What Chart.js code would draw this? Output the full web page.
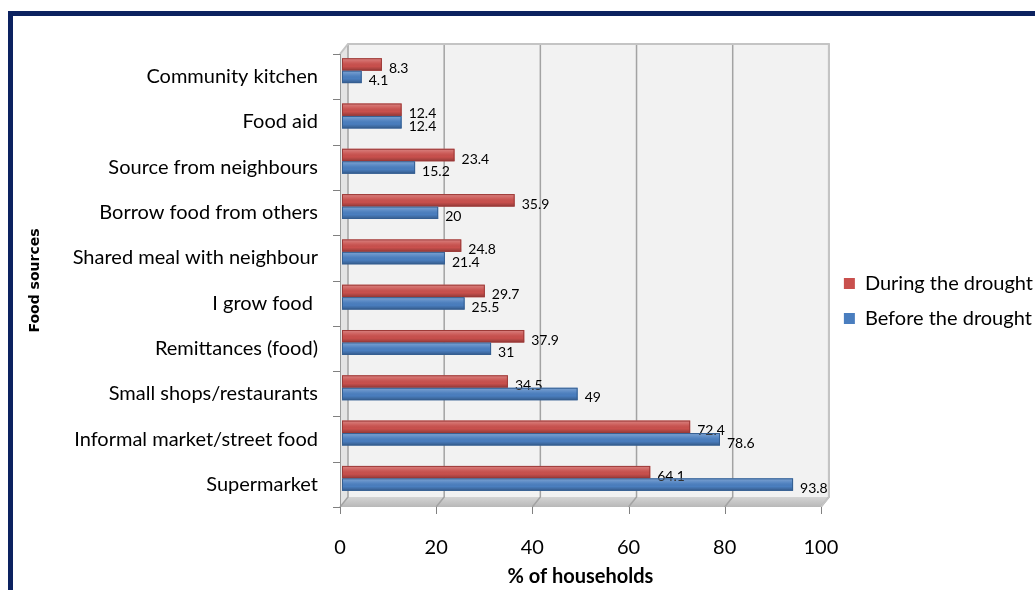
<!DOCTYPE html>
<html lang="en">
<head>
<meta charset="UTF-8">
<title>Food sources before and during the drought</title>
<script src="https://cdn.jsdelivr.net/npm/chart.js@4.4.0/dist/chart.umd.min.js"></script>
<style>
    html, body {
        margin: 0;
        padding: 0;
        background: #fff;
        overflow: hidden;
    }

    .frame {
        position: absolute;
        left: 8px;
        top: 11px;
        width: 1200px;
        height: 800px;
        border-top: 5px solid #0c2260;
        border-left: 5px solid #0c2260;
    }

    .wrap {
        position: absolute;
        left: 0;
        top: 0;
        width: 1035px;
        height: 590px;
    }
</style>
</head>
<body>
<div class="frame"></div>
<div class="wrap"><canvas id="foodChart"></canvas></div>

<script>
    // Food sources, top to bottom
    const categories = [
        'Community kitchen',
        'Food aid',
        'Source from neighbours',
        'Borrow food from others',
        'Shared meal with neighbour',
        'I grow food ',
        'Remittances (food)',
        'Small shops/restaurants',
        'Informal market/street food',
        'Supermarket'
    ];

    // % of households
    const duringDrought = [8.3, 12.4, 23.4, 35.9, 24.8, 29.7, 37.9, 34.5, 72.4, 64.1];
    const beforeDrought = [4.1, 12.4, 15.2, 20, 21.4, 25.5, 31, 49, 78.6, 93.8];

    const xTicks = [0, 20, 40, 60, 80, 100];

    const FONT = 'Lato, "Open Sans", sans-serif';
    const DEPTH = { dx: 8, dy: -10 };   // back wall offset
    const BAR_SHIFT = { dx: 2, dy: -6 }; // bars sit in the middle of the depth
    const LEGEND_SHIFT = { dx: 8, dy: -20 };
    const edgeColors = ['#9c3a38', '#355f92'];

    // grey back wall, side wall and floor like an Excel 3D bar chart
    const wallPlugin = {
        id: 'wall3d',
        afterLayout(chart) {
            const lg = chart.legend;
            lg.left += LEGEND_SHIFT.dx;
            lg.right += LEGEND_SHIFT.dx;
            lg.top += LEGEND_SHIFT.dy;
            lg.bottom += LEGEND_SHIFT.dy;
        },
        beforeDraw(chart) {
            const ctx = chart.ctx;
            const xs = chart.scales.x;
            const { top, bottom } = chart.chartArea;
            const x0 = xs.getPixelForValue(0);
            const x1 = xs.getPixelForValue(100);
            const { dx, dy } = DEPTH;

            ctx.save();
            // back wall
            ctx.fillStyle = '#f2f2f2';
            ctx.fillRect(x0 + dx, top + dy, x1 - x0, bottom - top);

            // left side wall
            ctx.fillStyle = '#e4e4e4';
            ctx.beginPath();
            ctx.moveTo(x0, top);
            ctx.lineTo(x0 + dx, top + dy);
            ctx.lineTo(x0 + dx, bottom + dy);
            ctx.lineTo(x0, bottom);
            ctx.closePath();
            ctx.fill();

            // floor
            const fg = ctx.createLinearGradient(0, bottom + dy, 0, bottom);
            fg.addColorStop(0, '#d4d4d4');
            fg.addColorStop(1, '#b8b8b8');
            ctx.fillStyle = fg;
            ctx.beginPath();
            ctx.moveTo(x0, bottom);
            ctx.lineTo(x1, bottom);
            ctx.lineTo(x1 + dx, bottom + dy);
            ctx.lineTo(x0 + dx, bottom + dy);
            ctx.closePath();
            ctx.fill();

            // gridlines on wall and floor
            ctx.strokeStyle = '#a3a3a3';
            ctx.lineWidth = 1.5;
            xTicks.forEach(v => {
                const x = xs.getPixelForValue(v);
                ctx.beginPath();
                ctx.moveTo(x + dx, top + dy);
                ctx.lineTo(x + dx, bottom + dy);
                ctx.lineTo(x, bottom);
                ctx.stroke();
            });

            // wall outline
            ctx.strokeStyle = '#c4c4c4';
            ctx.lineWidth = 2;
            ctx.beginPath();
            ctx.moveTo(x0, top);
            ctx.lineTo(x0 + dx, top + dy);
            ctx.lineTo(x1 + dx, top + dy);
            ctx.lineTo(x1 + dx, bottom + dy);
            ctx.lineTo(x1, bottom);
            ctx.stroke();

            // axis line
            ctx.strokeStyle = '#9a9a9a';
            ctx.lineWidth = 1;
            ctx.beginPath();
            ctx.moveTo(x0 + 0.5, top);
            ctx.lineTo(x0 + 0.5, bottom);
            ctx.stroke();

            // y tick marks on category boundaries
            ctx.strokeStyle = '#808080';
            const band = (bottom - top) / categories.length;
            for (let i = 0; i <= categories.length; i++) {
                const y = Math.round(top + i * band) + 0.5;
                ctx.beginPath();
                ctx.moveTo(x0 - 7, y);
                ctx.lineTo(x0, y);
                ctx.stroke();
            }
            // x tick marks
            xTicks.forEach(v => {
                const x = Math.round(xs.getPixelForValue(v)) + 0.5;
                ctx.beginPath();
                ctx.moveTo(x, bottom);
                ctx.lineTo(x, bottom + 7);
                ctx.stroke();
            });
            ctx.restore();
        },
        beforeDatasetsDraw(chart) {
            chart.ctx.save();
            chart.ctx.translate(BAR_SHIFT.dx, BAR_SHIFT.dy);
        },
        afterDatasetsDraw(chart) {
            const ctx = chart.ctx;
            chart.data.datasets.forEach((ds, i) => {
                const meta = chart.getDatasetMeta(i);
                meta.data.forEach((bar, j) => {
                    const { x, y, base, height } = bar.getProps(['x', 'y', 'base', 'height'], true);
                    const t = y - height / 2;
                    const g = ctx.createLinearGradient(0, t, 0, t + height);
                    g.addColorStop(0, 'rgba(255,255,255,0.30)');
                    g.addColorStop(0.35, 'rgba(255,255,255,0.08)');
                    g.addColorStop(0.65, 'rgba(0,0,0,0)');
                    g.addColorStop(1, 'rgba(0,0,0,0.28)');
                    ctx.fillStyle = g;
                    ctx.fillRect(base, t, x - base, height);
                    ctx.strokeStyle = edgeColors[i];
                    ctx.lineWidth = 1;
                    ctx.strokeRect(base + 0.5, t + 0.5, x - base - 1, height - 1);

                    // value label at the bar end
                    ctx.fillStyle = '#000';
                    ctx.font = '14px ' + FONT;
                    ctx.textBaseline = 'middle';
                    ctx.textAlign = 'left';
                    ctx.fillText(String(ds.data[j]), x + 7, y + 4);
                });
            });
            ctx.restore();
        }
    };

    const chart = new Chart(document.getElementById('foodChart'), {
        type: 'bar',
        data: {
            labels: categories,
            datasets: [
                {
                    label: 'During the drought',
                    data: duringDrought,
                    backgroundColor: '#c9504d',
                    borderWidth: 0,
                    categoryPercentage: 0.55,
                    barPercentage: 1
                },
                {
                    label: 'Before the drought',
                    data: beforeDrought,
                    backgroundColor: '#4a7ebf',
                    borderWidth: 0,
                    categoryPercentage: 0.55,
                    barPercentage: 1
                }
            ]
        },
        options: {
            indexAxis: 'y',
            responsive: true,
            maintainAspectRatio: false,
            animation: false,
            layout: {
                padding: { left: 14, top: 54, bottom: 2, right: 0 }
            },
            plugins: {
                tooltip: { enabled: false },
                legend: {
                    position: 'right',
                    labels: {
                        color: '#000',
                        font: { family: FONT, size: 20 },
                        boxWidth: 11,
                        boxHeight: 11,
                        padding: 15
                    }
                }
            },
            scales: {
                x: {
                    type: 'linear',
                    min: 0,
                    max: 100,
                    afterBuildTicks(scale) {
                        scale.ticks = xTicks.map(v => ({ value: v }));
                    },
                    afterFit(scale) {
                        scale.height = 81;
                    },
                    grid: { display: false, drawTicks: false },
                    border: { display: false },
                    ticks: {
                        color: '#000',
                        font: { family: FONT, size: 20 },
                        padding: 29
                    },
                    title: {
                        display: true,
                        text: '% of households',
                        color: '#000',
                        font: { family: FONT, size: 20, weight: 'bold' },
                        padding: { top: 0, bottom: -1 }
                    }
                },
                y: {
                    afterFit(scale) {
                        scale.width = 326;
                    },
                    grid: { display: false, drawTicks: false },
                    border: { display: false },
                    ticks: {
                        color: '#000',
                        font: { family: FONT, size: 20 },
                        padding: 22
                    },
                    title: {
                        display: true,
                        text: 'Food sources',
                        color: '#000',
                        font: { family: '"DejaVu Sans", sans-serif', size: 14, weight: 'bold' },
                        padding: { top: 13, bottom: 0 }
                    }
                }
            }
        },
        plugins: [wallPlugin]
    });
</script>
</body>
</html>
